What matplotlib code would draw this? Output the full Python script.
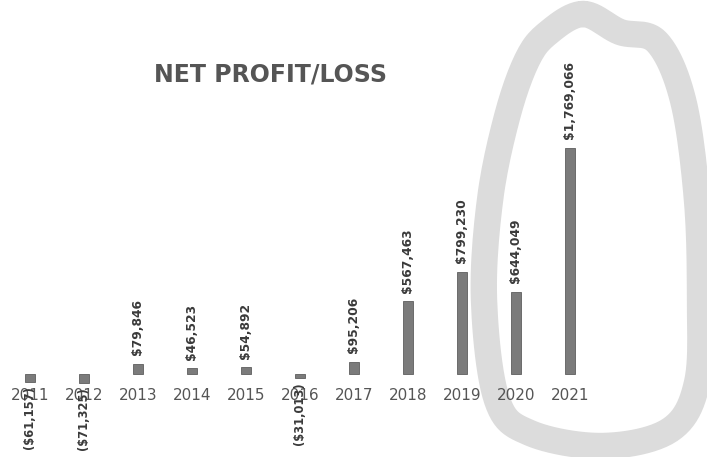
import matplotlib
matplotlib.use('Agg')
import matplotlib.pyplot as plt
import numpy as np

# ---- data ----
years = ['2011', '2012', '2013', '2014', '2015', '2016', '2017', '2018', '2019', '2020', '2021']
profit = [-61157, -71325, 79846, 46523, 54892, -31013, 95206, 567463, 799230, 644049, 1769066]
value_labels = ['($61,157)', '($71,325)', '$79,846', '$46,523', '$54,892', '($31,013)',
                '$95,206', '$567,463', '$799,230', '$644,049', '$1,769,066']
title = 'NET PROFIT/LOSS'

W, H = 707, 457
fig = plt.figure(figsize=(W / 100, H / 100), dpi=100)
fig.patch.set_facecolor('white')
ax = fig.add_axes([0, 0, 1, 1])
ax.patch.set_visible(False)

x = np.arange(len(years))
ax.bar(x, profit, width=0.19, color='#7b7b7b', edgecolor='#5e5e5e', linewidth=0.6, zorder=3)

# scale: category spacing ~54 px, first category at 30 px; baseline 374 px from top
ax.set_xlim(-30 / 54, (W - 30) / 54)
px_per_val = 1 / 7812.5
ax.set_ylim(-(H - 374) / px_per_val, 374 / px_per_val)

for s in ['top', 'right', 'left']:
    ax.spines[s].set_visible(False)
ax.spines['bottom'].set_position(('data', 0))
ax.spines['bottom'].set_visible(False)
ax.set_yticks([])
ax.set_xticks(x, years)
ax.tick_params(axis='x', length=0, pad=10, labelsize=11, labelcolor='#555555')
for t in ax.get_xticklabels():
    t.set_zorder(5)

for xi, v, lab in zip(x, profit, value_labels):
    if v >= 0:
        ax.annotate(lab, (xi, v), xytext=(0, 6), textcoords='offset points',
                    rotation=90, ha='center', va='bottom', fontsize=8.8,
                    fontweight='bold', color='#3a3a3a', zorder=5)
    else:
        ax.annotate(lab, (xi, v), xytext=(0, -3), textcoords='offset points',
                    rotation=90, ha='center', va='top', fontsize=8.3,
                    fontweight='bold', color='#3a3a3a', zorder=5)

fig.text(271 / W, 1 - 75 / H, title, ha='center', va='center', fontsize=17,
         color='#555555', fontweight='semibold')

# hand-drawn highlight loop (pixel coordinates of the scanned annotation)
loop = np.array([[583, 14], [620, 32], [657, 42], [683, 100], [697, 200], [700, 300],
                 [697, 383], [670, 430], [603, 446], [530, 433], [497, 400],
                 [484, 300], [490, 200], [507, 117], [527, 60], [548, 33]], float)
n = len(loop)
pts = []
for i in range(n):
    p0, p1, p2, p3 = loop[i - 1], loop[i], loop[(i + 1) % n], loop[(i + 2) % n]
    for t in np.linspace(0, 1, 12, endpoint=False):
        t2, t3 = t * t, t * t * t
        pts.append(0.5 * ((2 * p1) + (-p0 + p2) * t + (2 * p0 - 5 * p1 + 4 * p2 - p3) * t2
                          + (-p0 + 3 * p1 - 3 * p2 + p3) * t3))
pts.append(pts[0])
pts = np.array(pts)
ax.plot(pts[:, 0] / W, 1 - pts[:, 1] / H, transform=fig.transFigure, color='#dcdcdc',
        linewidth=19, solid_capstyle='round', solid_joinstyle='round', clip_on=False, zorder=1)

fig.savefig('out.png', dpi=100, facecolor='white')
